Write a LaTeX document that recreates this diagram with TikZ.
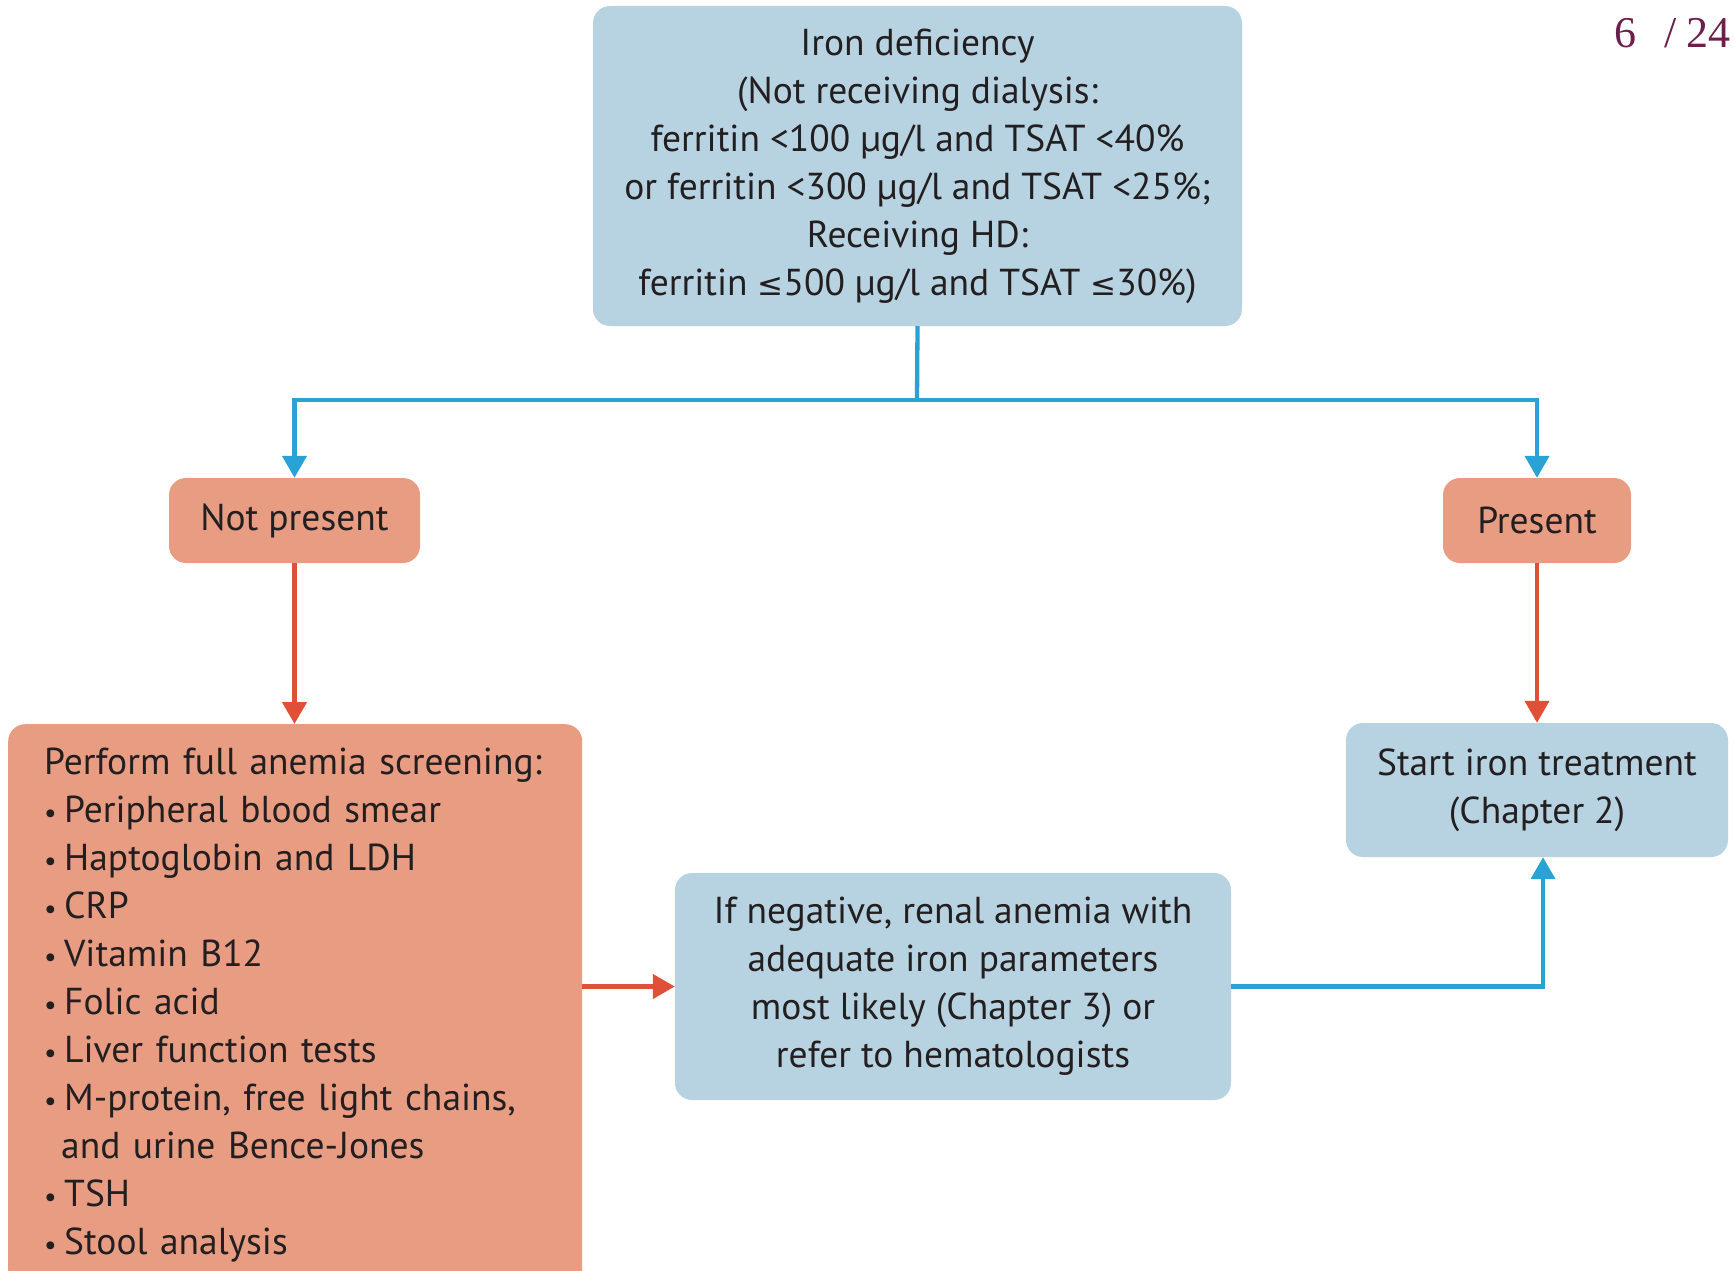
\documentclass[tikz,border=0pt]{standalone}
\usepackage{fontspec}
\setmainfont{PT Sans}
\newfontfamily\symfont{DejaVu Sans}
\newfontfamily\pagefont{Liberation Serif}
\usetikzlibrary{arrows.meta}
\definecolor{boxblue}{HTML}{B7D3E1}
\definecolor{boxorange}{HTML}{E89D82}
\definecolor{lineblue}{HTML}{29A3D6}
\definecolor{linered}{HTML}{E05038}
\definecolor{txt}{HTML}{231F20}
\definecolor{pagecol}{HTML}{6E1E4A}
\newcommand{\lesym}{{\symfont\fontsize{31}{48}\selectfont ≤}}
\newcommand{\itm}{\makebox[20pt][l]{\fontsize{28}{48}\selectfont•}}
\tikzset{
  boxbase/.style={rounded corners=17pt, text=txt, align=center, inner sep=0pt,
    font=\fontsize{37.5}{48}\selectfont},
  bluebox/.style={boxbase, fill=boxblue},
  orangebox/.style={boxbase, fill=boxorange},
  barrow/.style={draw=lineblue, line width=4.3pt, -{Triangle[width=24pt,length=22pt]}},
  rarrow/.style={draw=linered, line width=4.3pt, -{Triangle[width=24pt,length=22pt]}},
  bline/.style={draw=lineblue, line width=4.3pt}
}
\begin{document}
\begin{tikzpicture}[x=1pt,y=-1pt]
\useasboundingbox (0,0) rectangle (1734,1271);
\clip (0,0) rectangle (1734,1271);
\node[bluebox, minimum width=649pt, minimum height=320pt] (top) at (917.5,166)
  {Iron deficiency\\(Not receiving dialysis:\\ferritin <100 µg/l and TSAT <40\%\\or ferritin <300 µg/l and TSAT <25\%;\\Receiving HD:\\ferritin \lesym500 µg/l and TSAT \lesym30\%)};
\node[orangebox, minimum width=251pt, minimum height=85pt] (np) at (294.5,520.5) {Not present};
\node[orangebox, minimum width=188pt, minimum height=85pt] (pr) at (1537,520.5) {Present};
\node[orangebox, anchor=north west, align=left, text width=502pt, inner xsep=36pt,
  inner ysep=24pt] (scr) at (8,724)
  {Perform full anemia screening:\\
   \itm Peripheral blood smear\\
   \itm Haptoglobin and LDH\\
   \itm CRP\\
   \itm Vitamin B12\\
   \itm Folic acid\\
   \itm Liver function tests\\
   \itm M-protein, free light chains,\\
   \hspace{17pt}and urine Bence-Jones\\
   \itm TSH\\
   \itm Stool analysis\\[6pt]};
\node[bluebox, minimum width=382pt, minimum height=134pt] (start) at (1537,790)
  {Start iron treatment\\(Chapter 2)};
\node[bluebox, minimum width=556pt, minimum height=227pt] (neg) at (953,986.5)
  {If negative, renal anemia with\\adequate iron parameters\\most likely (Chapter 3) or\\refer to hematologists};
\node[anchor=east, text=pagecol, font=\pagefont\fontsize{44}{48}\selectfont, inner sep=0pt] (pg) at (1731,33)
  {6\hspace{28pt}/\hspace{10pt}24};
\coordinate (j) at (917,400);
\draw[bline] (top.south) -- (j);
\draw[barrow] (j) -| (np.north);
\draw[barrow] (j) -| (pr.north);
\draw[rarrow] (np.south) -- (scr.north -| np.south);
\draw[rarrow] (pr.south) -- (start.north);
\draw[rarrow] (scr.east |- neg.west) -- (neg.west);
\draw[barrow] (neg.east) -| ([xshift=6pt]start.south);
\end{tikzpicture}
\end{document}
